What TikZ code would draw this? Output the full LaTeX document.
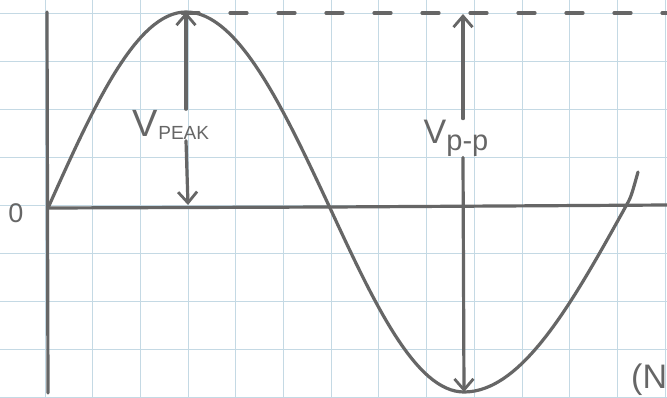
\documentclass[tikz,border=0pt]{standalone}
\usepackage{fontspec}
\setmainfont{Liberation Sans}
\usepackage{xcolor}
\usetikzlibrary{arrows.meta,calc}

\definecolor{pencil}{HTML}{666666}
\definecolor{gridblue}{HTML}{C4D9E4}

\begin{document}
\begin{tikzpicture}[
    x=1pt, y=-1pt,
    grd/.style={draw=gridblue, line width=0.9pt},
    pen/.style={draw=pencil, line width=3.2pt, line cap=round, line join=round},
    dsh/.style={pen, dash pattern=on 17pt off 31pt, dash phase=0pt},
    arr/.style={pen, -{Straight Barb[length=11pt, width=19pt, line width=2.8pt]}},
    lbl/.style={text=pencil, inner sep=1pt}
]
    \useasboundingbox (0,0) rectangle (667,397);
    \clip (0,0) rectangle (667,397);
    \fill[white] (0,0) rectangle (667,397);

    % graph paper
    \foreach \i in {-1,...,13} {
        \draw[grd] ({45+47.7*\i},0) -- ({45+47.7*\i},397);
    }
    \foreach \j in {0,...,8} {
        \draw[grd] (0,{13+48*\j}) -- (667,{13+48*\j});
    }

    % axes
    \coordinate (o) at (48,208);
    \draw[pen] (47,12) -- (48,393);
    \draw[pen] (o) -- (330,207) -- (667,205);
    \node[lbl, font=\fontsize{27}{27}\selectfont] (zero) at (16,213) {0};

    % the wave
    \coordinate (pk) at (186,12);
    \coordinate (tr) at (464,392);
    \draw[pen] (o) sin (pk) cos (330,208) sin (tr) cos (626,206)
        .. controls (631,197) .. (638,172);

    % peak level
    \draw[dsh] (182,13) -- (667,13);

    % V peak
    \node[lbl] (vpk) at (171,125)
        {\fontsize{38}{38}\selectfont V\raisebox{-3pt}{\fontsize{19}{19}\selectfont PEAK}};
    \draw[arr] (vpk.north -| pk) -- (pk);
    \draw[arr] (vpk.south -| pk) -- (188,205);

    % V p-p
    \coordinate (tp) at (463,14);
    \node[lbl] (vpp) at (456,138)
        {\fontsize{34}{34}\selectfont V\raisebox{-7pt}{\fontsize{29}{29}\selectfont p-p}};
    \draw[arr] (vpp.north -| tp) -- (tp);
    \draw[arr] (vpp.south -| tp) -- (tr);

    \node[lbl, anchor=west, font=\fontsize{34}{34}\selectfont] (nn) at (630,380) {(N};
\end{tikzpicture}
\end{document}
